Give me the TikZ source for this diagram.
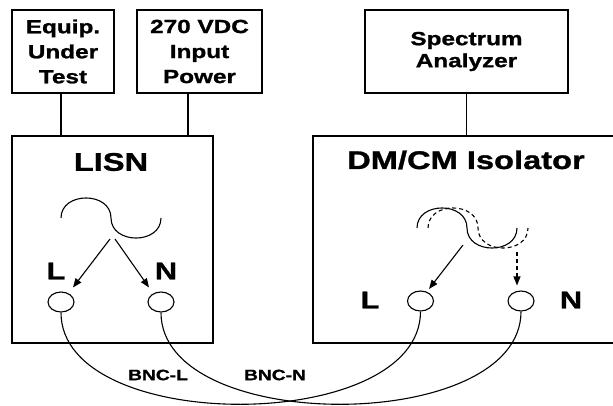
\documentclass[tikz,border=0pt]{standalone}
\usepackage{fontspec}
\setmainfont{Liberation Sans}[FakeStretch=1.28,BoldFeatures={FakeBold=1.2}]
\usetikzlibrary{arrows.meta,shapes.geometric,calc}
\begin{document}
\begin{tikzpicture}[x=1pt,y=-1pt,line width=1.3pt,
  box/.style={draw,rectangle,inner sep=0pt,align=center,font=\bfseries\fontsize{19}{25}\selectfont},
  frame/.style={draw,rectangle,inner sep=0pt},
  title/.style={font=\bfseries\fontsize{25.5}{30}\selectfont,inner sep=0pt},
  term/.style={font=\bfseries\fontsize{24}{28}\selectfont,inner sep=0pt},
  port/.style={draw,ellipse,minimum width=26pt,minimum height=20pt,inner sep=0pt,line width=1.1pt},
  cable/.style={line width=1.1pt},
  lbl/.style={font=\bfseries\fontsize{15}{18}\selectfont,inner sep=0pt},
  arr/.style={-{Triangle[length=9pt,width=7pt]},line width=1.1pt},
  wave/.style={line width=1.1pt},
  dsh/.style={dash pattern=on 4pt off 3pt}]
\clip (0,0) rectangle (613,406);
\fill[white] (0,0) rectangle (613,406);

% top boxes
\node[box,minimum width=102pt,minimum height=83pt] (eut) at (63,51.5) {Equip.\\Under\\Test};
\node[box,minimum width=125pt,minimum height=83pt] (vdc) at (199.5,51.5) {270 VDC\\Input\\Power};
\node[box,minimum width=203pt,minimum height=83pt,font=\bfseries\fontsize{19}{22}\selectfont] (spec) at (466.5,51.5) {Spectrum\\Analyzer};

% main boxes
\node[frame,minimum width=201pt,minimum height=207pt] (lisn) at (112.5,239.5) {};
\node[frame,minimum width=317pt,minimum height=207pt] (iso) at (471.5,239.5) {};
\node[title] (lisnT) at (111,162) {LISN};
\node[title] (isoT) at (466,160) {DM/CM Isolator};

% vertical connectors
\coordinate (c1) at ($(eut.south west)!0.48!(eut.south east)$);
\coordinate (c2) at ($(vdc.south west)!0.41!(vdc.south east)$);
\draw (c1) -- (c1 |- lisn.north);
\draw (c2) -- (c2 |- lisn.north);
\draw (spec.south) -- (spec.south |- iso.north);

% terminals
\node[port] (lL) at (61,302) {};
\node[port] (lN) at (161,302) {};
\node[port] (iL) at (420.5,301) {};
\node[port] (iN) at (521,301) {};
\node[term] (tlL) at (56,271) {L};
\node[term] (tlN) at (166,271) {N};
\node[term] (tiL) at (370,300) {L};
\node[term] (tiN) at (571,300) {N};

% LISN source wave
\draw[wave] (61,218) .. controls (61,191.3) and (111,191.3) .. (111,218)
            .. controls (111,244.7) and (161,244.7) .. (161,218);
\coordinate (sL1) at (110,239);
\coordinate (sL2) at (115,239);
\draw[arr] (sL1) -- ([shift={(12,-4)}]lL.north);
\draw[arr] (sL2) -- ([shift={(-12,-4)}]lN.north);

% isolator waves
\draw[wave] (417,228) .. controls (417,201.3) and (467,201.3) .. (467,228)
            .. controls (467,254.7) and (517,254.7) .. (517,228);
\draw[wave,dsh] (428,228) .. controls (428,201.3) and (478,201.3) .. (478,228)
            .. controls (478,254.7) and (528,254.7) .. (528,228);
\coordinate (sI1) at (463,245);
\coordinate (sI2) at (517,252);
\draw[arr] (sI1) -- ([shift={(8.5,-1.5)}]iL.north);
\draw[arr,dsh] (sI2) -- ([shift={(-4,-5)}]iN.north);

% cables
\draw[cable] (lL.south) .. controls +(0,123) and +(0,123) .. (iL.south);
\draw[cable] (lN.south) .. controls +(0,123) and +(0,123) .. (iN.south);
\node[lbl] (bncL) at (158,375) {BNC-L};
\node[lbl] (bncN) at (275,375) {BNC-N};
\end{tikzpicture}
\end{document}
